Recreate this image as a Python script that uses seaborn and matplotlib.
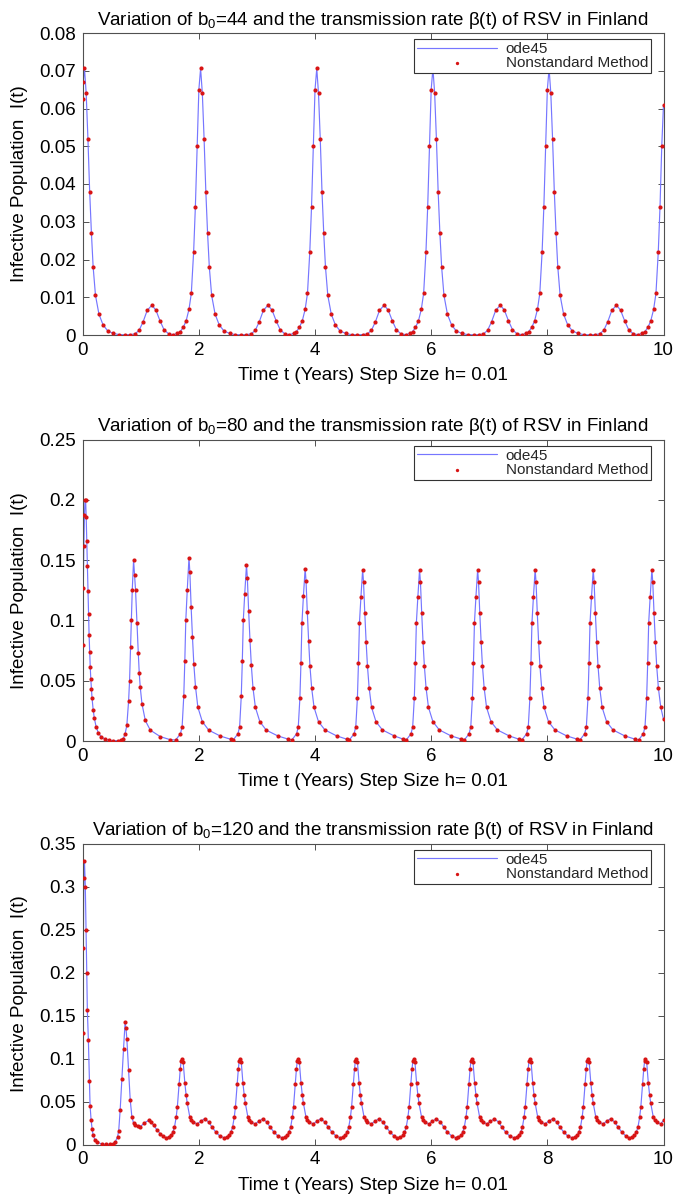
import matplotlib
matplotlib.use("Agg")
import matplotlib.pyplot as plt
import seaborn as sns

# ---------------- data ----------------
b0_values = ["44", "80", "120"]
x_ticks = [0, 2, 4, 6, 8, 10]
x_tick_labels = ["0", "2", "4", "6", "8", "10"]
y1_ticks = [0, 0.01, 0.02, 0.03, 0.04, 0.05, 0.06, 0.07, 0.08]
y1_tick_labels = ["0", "0.01", "0.02", "0.03", "0.04", "0.05", "0.06", "0.07", "0.08"]
y2_ticks = [0, 0.05, 0.1, 0.15, 0.2, 0.25]
y2_tick_labels = ["0", "0.05", "0.1", "0.15", "0.2", "0.25"]
y3_ticks = [0, 0.05, 0.1, 0.15, 0.2, 0.25, 0.3, 0.35]
y3_tick_labels = ["0", "0.05", "0.1", "0.15", "0.2", "0.25", "0.3", "0.35"]

# Panel 1 (b0 = 44)
t1 = [0.00, 0.01, 0.03, 0.06, 0.09, 0.12, 0.15, 0.18, 0.22, 0.28, 0.35, 0.43, 0.53, 0.63, 0.73, 0.82, 0.90, 0.97,
      1.04, 1.11, 1.19, 1.26, 1.33, 1.40, 1.48, 1.56, 1.63, 1.68, 1.73, 1.78, 1.83, 1.87, 1.91, 1.94, 1.97, 2.00,
      2.03, 2.06, 2.09, 2.12, 2.15, 2.18, 2.22, 2.28, 2.35, 2.43, 2.53, 2.63, 2.73, 2.82, 2.90, 2.97, 3.04, 3.11,
      3.19, 3.26, 3.33, 3.40, 3.48, 3.56, 3.63, 3.68, 3.73, 3.78, 3.83, 3.87, 3.91, 3.94, 3.97, 4.00,
      4.03, 4.06, 4.09, 4.12, 4.15, 4.18, 4.22, 4.28, 4.35, 4.43, 4.53, 4.63, 4.73, 4.82, 4.90, 4.97, 5.04, 5.11,
      5.19, 5.26, 5.33, 5.40, 5.48, 5.56, 5.63, 5.68, 5.73, 5.78, 5.83, 5.87, 5.91, 5.94, 5.97, 6.00,
      6.03, 6.06, 6.09, 6.12, 6.15, 6.18, 6.22, 6.28, 6.35, 6.43, 6.53, 6.63, 6.73, 6.82, 6.90, 6.97, 7.04, 7.11,
      7.19, 7.26, 7.33, 7.40, 7.48, 7.56, 7.63, 7.68, 7.73, 7.78, 7.83, 7.87, 7.91, 7.94, 7.97, 8.00,
      8.03, 8.06, 8.09, 8.12, 8.15, 8.18, 8.22, 8.28, 8.35, 8.43, 8.53, 8.63, 8.73, 8.82, 8.90, 8.97, 9.04, 9.11,
      9.19, 9.26, 9.33, 9.40, 9.48, 9.56, 9.63, 9.68, 9.73, 9.78, 9.83, 9.87, 9.91, 9.94, 9.97, 10.00]
i1 = [0.0625, 0.0670, 0.0708, 0.0640, 0.0520, 0.0380, 0.0270, 0.0180, 0.0105, 0.0055, 0.0027, 0.0011, 0.0004, 0.0001, 0.00005, 0.0001, 0.0003, 0.0012,
      0.0035, 0.0065, 0.0079, 0.0066, 0.0038, 0.0014, 0.0003, 0.0001, 0.0004, 0.0009, 0.0020, 0.0037, 0.0068, 0.0110, 0.0220, 0.0340, 0.0500, 0.0650,
      0.0706, 0.0640, 0.0520, 0.0380, 0.0270, 0.0180, 0.0105, 0.0055, 0.0027, 0.0011, 0.0004, 0.0001, 0.00005, 0.0001, 0.0003, 0.0012, 0.0035, 0.0065,
      0.0079, 0.0066, 0.0038, 0.0014, 0.0003, 0.0001, 0.0004, 0.0009, 0.0020, 0.0037, 0.0068, 0.0110, 0.0220, 0.0340, 0.0500, 0.0650,
      0.0706, 0.0640, 0.0520, 0.0380, 0.0270, 0.0180, 0.0105, 0.0055, 0.0027, 0.0011, 0.0004, 0.0001, 0.00005, 0.0001, 0.0003, 0.0012, 0.0035, 0.0065,
      0.0079, 0.0066, 0.0038, 0.0014, 0.0003, 0.0001, 0.0004, 0.0009, 0.0020, 0.0037, 0.0068, 0.0110, 0.0220, 0.0340, 0.0500, 0.0650,
      0.0706, 0.0640, 0.0520, 0.0380, 0.0270, 0.0180, 0.0105, 0.0055, 0.0027, 0.0011, 0.0004, 0.0001, 0.00005, 0.0001, 0.0003, 0.0012, 0.0035, 0.0065,
      0.0079, 0.0066, 0.0038, 0.0014, 0.0003, 0.0001, 0.0004, 0.0009, 0.0020, 0.0037, 0.0068, 0.0110, 0.0220, 0.0340, 0.0500, 0.0650,
      0.0706, 0.0640, 0.0520, 0.0380, 0.0270, 0.0180, 0.0105, 0.0055, 0.0027, 0.0011, 0.0004, 0.0001, 0.00005, 0.0001, 0.0003, 0.0012, 0.0035, 0.0065,
      0.0079, 0.0066, 0.0038, 0.0014, 0.0003, 0.0001, 0.0004, 0.0009, 0.0020, 0.0037, 0.0068, 0.0110, 0.0220, 0.0340, 0.0500, 0.0610]

# Panel 2 (b0 = 80)
t2 = [0.00, 0.01, 0.02, 0.03, 0.04, 0.05, 0.06, 0.07, 0.08, 0.09, 0.10, 0.11, 0.12, 0.13, 0.14, 0.15, 0.16, 0.18, 0.20, 0.23,
      0.27, 0.32, 0.39, 0.46, 0.53, 0.60, 0.66, 0.70,
      0.73, 0.76, 0.79, 0.807, 0.824, 0.836, 0.853, 0.876, 0.893, 0.91, 0.934, 0.957, 0.974, 0.99, 1.02, 1.078, 1.164, 1.337, 1.50,
      1.60, 1.683, 1.712, 1.74, 1.758, 1.775, 1.80, 1.83, 1.845, 1.867, 1.89, 1.913, 1.942, 1.983, 2.06, 2.17, 2.37, 2.55,
      2.59, 2.673, 2.702, 2.73, 2.748, 2.765, 2.79, 2.82, 2.835, 2.857, 2.88, 2.903, 2.932, 2.973, 3.05, 3.16, 3.36, 3.54,
      3.60, 3.683, 3.712, 3.74, 3.758, 3.775, 3.80, 3.83, 3.845, 3.867, 3.89, 3.913, 3.942, 3.983, 4.06, 4.17, 4.37, 4.55,
      4.59, 4.673, 4.702, 4.73, 4.748, 4.765, 4.79, 4.82, 4.835, 4.857, 4.88, 4.903, 4.932, 4.973, 5.05, 5.16, 5.36, 5.52,
      5.57, 5.653, 5.682, 5.71, 5.728, 5.745, 5.77, 5.80, 5.815, 5.837, 5.86, 5.883, 5.912, 5.953, 6.03, 6.14, 6.34, 6.52,
      6.57, 6.653, 6.682, 6.71, 6.728, 6.745, 6.77, 6.80, 6.815, 6.837, 6.86, 6.883, 6.912, 6.953, 7.03, 7.14, 7.34, 7.51,
      7.56, 7.643, 7.672, 7.70, 7.718, 7.735, 7.76, 7.79, 7.805, 7.827, 7.85, 7.873, 7.902, 7.943, 8.02, 8.13, 8.33, 8.51,
      8.56, 8.643, 8.672, 8.70, 8.718, 8.735, 8.76, 8.79, 8.805, 8.827, 8.85, 8.873, 8.902, 8.943, 9.02, 9.13, 9.33, 9.51,
      9.57, 9.653, 9.682, 9.71, 9.728, 9.745, 9.77, 9.80, 9.815, 9.837, 9.86, 9.883, 9.912, 9.953, 10.0]
i2 = [0.080, 0.127, 0.162, 0.187, 0.200, 0.200, 0.186, 0.166, 0.145, 0.124, 0.105, 0.088, 0.074, 0.061, 0.051, 0.043, 0.036, 0.026, 0.019, 0.012,
      0.0065, 0.0035, 0.0014, 0.0006, 0.0003, 0.0002, 0.0006, 0.002,
      0.006, 0.013, 0.033, 0.050, 0.078, 0.100, 0.125, 0.150, 0.138, 0.125, 0.0975, 0.073, 0.056, 0.045, 0.031, 0.017, 0.009, 0.0036, 0.0012,
      0.0008, 0.006, 0.012, 0.037, 0.066, 0.100, 0.125, 0.152, 0.140, 0.111, 0.086, 0.064, 0.045, 0.028, 0.016, 0.009, 0.0041, 0.0014,
      0.0008, 0.006, 0.012, 0.037, 0.066, 0.100, 0.122, 0.146, 0.135, 0.108, 0.084, 0.063, 0.044, 0.028, 0.016, 0.009, 0.0042, 0.0015,
      0.0008, 0.006, 0.012, 0.036, 0.065, 0.098, 0.120, 0.143, 0.133, 0.107, 0.083, 0.062, 0.044, 0.028, 0.016, 0.0092, 0.0043, 0.0015,
      0.0008, 0.006, 0.012, 0.036, 0.065, 0.098, 0.119, 0.142, 0.132, 0.106, 0.082, 0.062, 0.044, 0.028, 0.016, 0.0092, 0.0043, 0.0015,
      0.0008, 0.006, 0.012, 0.036, 0.065, 0.098, 0.119, 0.142, 0.132, 0.106, 0.082, 0.062, 0.044, 0.028, 0.016, 0.0092, 0.0043, 0.0015,
      0.0008, 0.006, 0.012, 0.036, 0.065, 0.098, 0.119, 0.142, 0.132, 0.106, 0.082, 0.062, 0.044, 0.028, 0.016, 0.0092, 0.0043, 0.0015,
      0.0008, 0.006, 0.012, 0.036, 0.065, 0.098, 0.119, 0.142, 0.132, 0.106, 0.082, 0.062, 0.044, 0.028, 0.016, 0.0092, 0.0043, 0.0015,
      0.0008, 0.006, 0.012, 0.036, 0.065, 0.098, 0.119, 0.142, 0.132, 0.106, 0.082, 0.062, 0.044, 0.028, 0.016, 0.0092, 0.0043, 0.0015,
      0.0008, 0.006, 0.012, 0.036, 0.065, 0.098, 0.119, 0.142, 0.132, 0.106, 0.082, 0.062, 0.044, 0.028, 0.018]

# Panel 3 (b0 = 120)
t3 = [0.00, 0.01, 0.02, 0.03, 0.045, 0.058, 0.07, 0.08, 0.098, 0.115, 0.127, 0.144, 0.161, 0.18, 0.21, 0.24, 0.33, 0.40, 0.47, 0.52,
      0.56, 0.60, 0.62, 0.645, 0.674, 0.703, 0.73, 0.745, 0.76, 0.79, 0.818, 0.847, 0.875, 0.905, 0.95, 0.99, 1.06, 1.135, 1.18, 1.22,
      1.28, 1.337, 1.39,
      1.43, 1.48, 1.52, 1.55, 1.58, 1.61, 1.63, 1.66, 1.68, 1.695, 1.71, 1.73, 1.758, 1.78, 1.80, 1.844, 1.87, 1.90, 1.97, 2.03, 2.10, 2.17, 2.23, 2.29, 2.36,
      2.43, 2.48, 2.52, 2.55, 2.58, 2.61, 2.63, 2.66, 2.68, 2.695, 2.71, 2.73, 2.758, 2.78, 2.80, 2.844, 2.87, 2.90, 2.97, 3.03, 3.10, 3.17, 3.23, 3.29, 3.36,
      3.43, 3.48, 3.52, 3.55, 3.58, 3.61, 3.63, 3.66, 3.68, 3.695, 3.71, 3.73, 3.758, 3.78, 3.80, 3.844, 3.87, 3.90, 3.97, 4.03, 4.10, 4.17, 4.23, 4.29, 4.36,
      4.43, 4.48, 4.52, 4.55, 4.58, 4.61, 4.63, 4.66, 4.68, 4.695, 4.71, 4.73, 4.758, 4.78, 4.80, 4.844, 4.87, 4.90, 4.97, 5.03, 5.10, 5.17, 5.23, 5.29, 5.36,
      5.42, 5.47, 5.51, 5.54, 5.57, 5.60, 5.62, 5.65, 5.67, 5.685, 5.70, 5.72, 5.748, 5.77, 5.79, 5.834, 5.86, 5.89, 5.96, 6.02, 6.09, 6.16, 6.22, 6.28, 6.35,
      6.42, 6.47, 6.51, 6.54, 6.57, 6.60, 6.62, 6.65, 6.67, 6.685, 6.70, 6.72, 6.748, 6.77, 6.79, 6.834, 6.86, 6.89, 6.96, 7.02, 7.09, 7.16, 7.22, 7.28, 7.35,
      7.42, 7.47, 7.51, 7.54, 7.57, 7.60, 7.62, 7.65, 7.67, 7.685, 7.70, 7.72, 7.748, 7.77, 7.79, 7.834, 7.86, 7.89, 7.96, 8.02, 8.09, 8.16, 8.22, 8.28, 8.35,
      8.42, 8.47, 8.51, 8.54, 8.57, 8.60, 8.62, 8.65, 8.67, 8.685, 8.70, 8.72, 8.748, 8.77, 8.79, 8.834, 8.86, 8.89, 8.96, 9.02, 9.09, 9.16, 9.22, 9.28, 9.35,
      9.41, 9.46, 9.50, 9.53, 9.56, 9.59, 9.61, 9.64, 9.66, 9.675, 9.69, 9.71, 9.738, 9.76, 9.78, 9.824, 9.85, 9.88, 9.95, 10.0]
i3 = [0.130, 0.229, 0.310, 0.330, 0.300, 0.250, 0.200, 0.156, 0.121, 0.074, 0.045, 0.029, 0.0185, 0.0106, 0.0055, 0.003, 0.0005, 0.0002, 0.0002, 0.0008,
      0.003, 0.009, 0.016, 0.040, 0.076, 0.111, 0.142, 0.135, 0.123, 0.087, 0.052, 0.032, 0.025, 0.0224, 0.021, 0.0205, 0.025, 0.028, 0.026, 0.0224,
      0.017, 0.0126, 0.0095,
      0.0080, 0.0085, 0.0106, 0.014, 0.020, 0.032, 0.044, 0.070, 0.088, 0.097, 0.100, 0.096, 0.072, 0.058, 0.048, 0.032, 0.028, 0.026, 0.024, 0.027, 0.030, 0.026, 0.020, 0.0146, 0.0100,
      0.0080, 0.0085, 0.0106, 0.014, 0.020, 0.032, 0.044, 0.070, 0.088, 0.097, 0.100, 0.096, 0.072, 0.058, 0.048, 0.032, 0.028, 0.026, 0.024, 0.027, 0.030, 0.026, 0.020, 0.0146, 0.0100,
      0.0080, 0.0085, 0.0106, 0.014, 0.020, 0.032, 0.044, 0.070, 0.088, 0.097, 0.100, 0.096, 0.072, 0.058, 0.048, 0.032, 0.028, 0.026, 0.024, 0.027, 0.030, 0.026, 0.020, 0.0146, 0.0100,
      0.0080, 0.0085, 0.0106, 0.014, 0.020, 0.032, 0.044, 0.070, 0.088, 0.097, 0.100, 0.096, 0.072, 0.058, 0.048, 0.032, 0.028, 0.026, 0.024, 0.027, 0.030, 0.026, 0.020, 0.0146, 0.0100,
      0.0080, 0.0085, 0.0106, 0.014, 0.020, 0.032, 0.044, 0.070, 0.088, 0.097, 0.100, 0.096, 0.072, 0.058, 0.048, 0.032, 0.028, 0.026, 0.024, 0.027, 0.030, 0.026, 0.020, 0.0146, 0.0100,
      0.0080, 0.0085, 0.0106, 0.014, 0.020, 0.032, 0.044, 0.070, 0.088, 0.097, 0.100, 0.096, 0.072, 0.058, 0.048, 0.032, 0.028, 0.026, 0.024, 0.027, 0.030, 0.026, 0.020, 0.0146, 0.0100,
      0.0080, 0.0085, 0.0106, 0.014, 0.020, 0.032, 0.044, 0.070, 0.088, 0.097, 0.100, 0.096, 0.072, 0.058, 0.048, 0.032, 0.028, 0.026, 0.024, 0.027, 0.030, 0.026, 0.020, 0.0146, 0.0100,
      0.0080, 0.0085, 0.0106, 0.014, 0.020, 0.032, 0.044, 0.070, 0.088, 0.097, 0.100, 0.096, 0.072, 0.058, 0.048, 0.032, 0.028, 0.026, 0.024, 0.027, 0.030, 0.026, 0.020, 0.0146, 0.0100,
      0.0080, 0.0085, 0.0106, 0.014, 0.020, 0.032, 0.044, 0.070, 0.088, 0.097, 0.100, 0.096, 0.072, 0.058, 0.048, 0.032, 0.028, 0.026, 0.024, 0.028]

# ---------------- styling ----------------
sns.set_theme(style="ticks")
plt.rcParams['font.family'] = ['Liberation Sans', 'DejaVu Sans']
plt.rcParams['mathtext.fontset'] = 'custom'
plt.rcParams['mathtext.rm'] = 'Liberation Sans'
plt.rcParams['mathtext.it'] = 'Liberation Sans'
plt.rcParams['mathtext.default'] = 'regular'

FS = 13.5
BLUE = '#7676ff'
RED = '#d81414'
SPINE = '#505050'

W, H = 677, 1200
fig = plt.figure(figsize=(W / 100, H / 100), dpi=100)
fig.patch.set_facecolor('white')


def rect(x0, y0, x1, y1):
    return [x0 / W, 1 - y1 / H, (x1 - x0) / W, (y1 - y0) / H]


panels = [
    (t1, i1, b0_values[0], rect(82.7, 33, 663.5, 335), 0.08, y1_ticks, y1_tick_labels),
    (t2, i2, b0_values[1], rect(82.7, 439.5, 663.5, 741), 0.25, y2_ticks, y2_tick_labels),
    (t3, i3, b0_values[2], rect(82.7, 843.5, 663.5, 1144.5), 0.35, y3_ticks, y3_tick_labels),
]

for t, v, b0, r, ymax, yt, ytl in panels:
    ax = fig.add_axes(r)
    ax.set_facecolor('white')
    sns.lineplot(x=t, y=v, ax=ax, color=BLUE, lw=0.85, sort=False, estimator=None,
                 label='ode45', zorder=2)
    sns.scatterplot(x=t, y=v, ax=ax, color=RED, s=9, linewidth=0, marker='o',
                    label='Nonstandard Method', zorder=3)
    ax.set_xlim(0, 10)
    ax.set_ylim(0, ymax)
    ax.set_xticks(x_ticks)
    ax.set_xticklabels(x_tick_labels, fontsize=FS)
    ax.set_yticks(yt)
    ax.set_yticklabels(ytl, fontsize=FS)
    ax.tick_params(direction='in', top=True, right=True, length=4, width=0.7,
                   color=SPINE, pad=5, labelcolor='black')
    for s in ax.spines.values():
        s.set_visible(True)
        s.set_color(SPINE)
        s.set_linewidth(0.8)
    ax.set_title(f'Variation of b$_{{0}}$={b0} and the transmission rate \u03b2(t) of RSV in Finland',
                 fontsize=FS, pad=6, color='black')
    ax.set_xlabel('Time t (Years) Step Size h= 0.01', fontsize=FS, labelpad=6, color='black')
    ax.set_ylabel('Infective Population  I(t)', fontsize=FS, labelpad=8, color='black')
    leg = ax.legend(loc='upper right', bbox_to_anchor=(0.979, 0.98), borderaxespad=0,
                    fontsize=11, frameon=True, fancybox=False, edgecolor='#333333',
                    framealpha=1, borderpad=0.2, labelspacing=0.0, handlelength=5.2,
                    handletextpad=0.6, markerscale=0.8)
    leg.get_frame().set_linewidth(0.8)

fig.savefig('out.png', dpi=100, facecolor='white')
